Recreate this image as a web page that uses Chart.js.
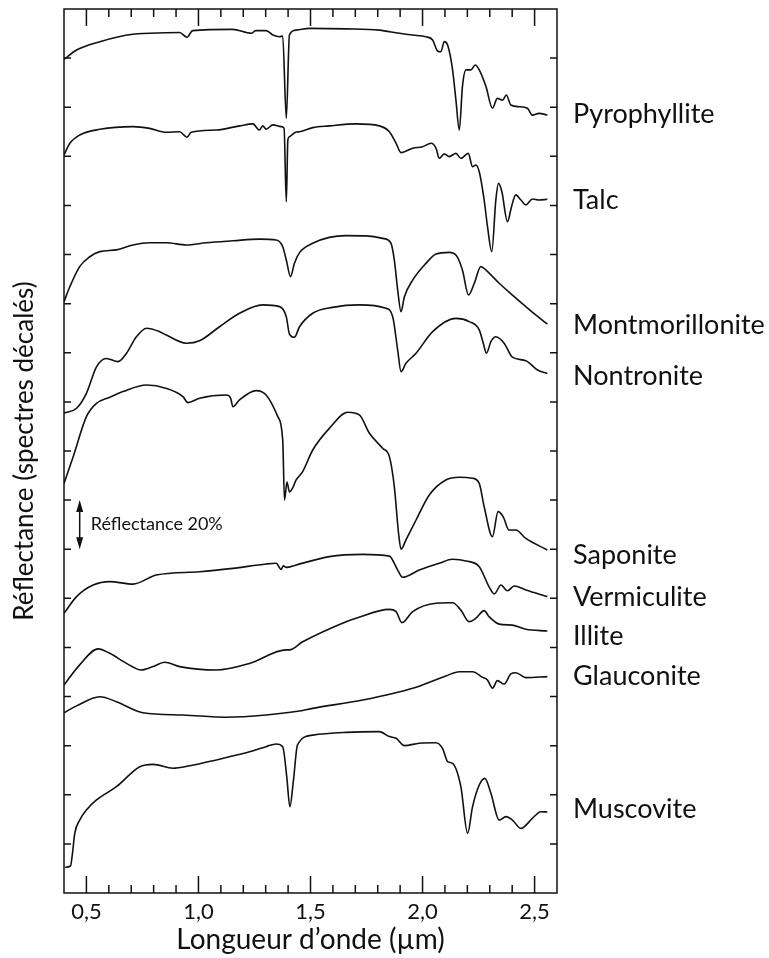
<!DOCTYPE html>
<html>
<head>
<meta charset="utf-8">
<script src="https://cdn.jsdelivr.net/npm/chart.js@4/dist/chart.umd.min.js"></script>
<style>
  html, body { margin: 0; padding: 0; background: #ffffff; }
  canvas { display: block; }
</style>
</head>
<body>
<canvas id="spectra" width="769" height="958"></canvas>
<script>
// Axis ranges and tick positions
const xMin = 0.4, xMax = 2.6;
const yMin = 0, yMax = 360;
const xLabelTicks = [0.5, 1.0, 1.5, 2.0, 2.5];
const xMinorTicks = [0.6, 0.7, 0.8, 0.9, 1.1, 1.2, 1.3, 1.4, 1.6, 1.7, 1.8, 1.9, 2.1, 2.2, 2.3, 2.4];
const yTicks = [20, 40, 60, 80, 100, 120, 140, 160, 180, 200, 220, 240, 260, 280, 300, 320, 340];

// Scale bar (20 % reflectance)
const scaleBarX = 0.47;
const scaleBarFrom = 140;
const scaleBarTo = 160;
const scaleBarText = 'Réflectance 20%';

// Mineral names, top to bottom, and the height (offset reflectance) of each name
const minerals = ['Pyrophyllite', 'Talc', 'Montmorillonite', 'Nontronite', 'Saponite',
                  'Vermiculite', 'Illite', 'Glauconite', 'Muscovite'];
const nameLevels = [317.5, 282.5, 231.5, 210.9, 138.1, 120.7, 104.8, 88.7, 34.3];

// Wavelengths (µm) and offset reflectance (%) for each spectrum
const pyrophylliteWl = [0.40, 0.456, 0.560, 0.707, 0.857, 0.916, 0.949, 0.974, 1.152, 1.236, 1.255, 1.302, 1.332, 1.362, 1.376, 1.392, 1.406, 1.436, 1.495, 1.659, 1.807, 1.896, 1.956, 2.015, 2.045, 2.067, 2.082, 2.097, 2.112, 2.134, 2.149, 2.164, 2.178, 2.194, 2.216, 2.235, 2.253, 2.283, 2.312, 2.334, 2.357, 2.374, 2.394, 2.431, 2.468, 2.490, 2.520, 2.557];
const pyrophylliteR = [339.5, 343.3, 346.7, 349.7, 350.3, 350.4, 348.5, 351.2, 351.7, 350.1, 351.2, 351.2, 349.4, 348.7, 349.0, 315.5, 349.4, 351.4, 352.1, 351.9, 351.4, 350.1, 349.4, 348.7, 347.4, 342.9, 342.6, 346.7, 345.3, 335.2, 322.9, 310.7, 328.4, 335.2, 335.2, 337.2, 335.2, 328.4, 319.6, 323.6, 322.9, 325.0, 320.9, 320.2, 319.6, 316.8, 317.5, 316.8];

const talcWl = [0.40, 0.426, 0.470, 0.560, 0.708, 0.782, 0.857, 0.916, 0.949, 0.968, 1.080, 1.183, 1.243, 1.272, 1.287, 1.302, 1.332, 1.369, 1.382, 1.392, 1.399, 1.406, 1.436, 1.451, 1.510, 1.584, 1.703, 1.807, 1.852, 1.882, 1.904, 1.956, 2.000, 2.038, 2.060, 2.075, 2.097, 2.119, 2.149, 2.171, 2.204, 2.223, 2.238, 2.253, 2.275, 2.290, 2.309, 2.327, 2.339, 2.354, 2.379, 2.397, 2.416, 2.439, 2.461, 2.490, 2.520, 2.557];
const talcR = [300.5, 305.3, 308.7, 311.0, 312.1, 311.4, 309.8, 310.0, 307.8, 309.8, 310.7, 312.4, 313.2, 310.7, 312.4, 311.1, 312.8, 312.1, 311.5, 281.5, 306.7, 308.0, 309.9, 310.0, 311.7, 312.4, 313.2, 312.4, 310.0, 305.3, 301.5, 303.3, 303.9, 305.3, 303.3, 299.2, 301.0, 299.9, 301.2, 299.2, 301.2, 295.8, 296.5, 293.7, 282.2, 271.3, 261.2, 282.2, 289.0, 285.6, 273.4, 279.5, 284.3, 282.2, 280.2, 282.6, 282.2, 282.5];

const montmorilloniteWl = [0.40, 0.426, 0.470, 0.515, 0.560, 0.634, 0.708, 0.782, 0.857, 0.946, 1.035, 1.154, 1.272, 1.347, 1.376, 1.392, 1.411, 1.428, 1.451, 1.510, 1.584, 1.659, 1.748, 1.822, 1.859, 1.874, 1.889, 1.904, 1.919, 1.956, 2.015, 2.060, 2.119, 2.149, 2.178, 2.205, 2.231, 2.260, 2.283, 2.342, 2.401, 2.461, 2.505, 2.557];
const montmorilloniteR = [240.8, 246.9, 255.1, 259.1, 261.2, 261.9, 263.9, 264.8, 264.8, 263.9, 264.8, 265.6, 266.3, 265.9, 263.2, 257.8, 251.0, 256.4, 260.8, 264.6, 267.0, 267.7, 267.6, 266.6, 264.6, 257.8, 245.6, 236.7, 242.8, 249.6, 256.4, 260.2, 260.9, 259.8, 253.7, 243.5, 248.3, 255.1, 253.7, 248.3, 243.5, 238.8, 235.4, 231.7];

const nontroniteWl = [0.40, 0.456, 0.500, 0.545, 0.589, 0.641, 0.679, 0.723, 0.768, 0.827, 0.857, 0.946, 1.005, 1.094, 1.183, 1.287, 1.362, 1.392, 1.406, 1.428, 1.451, 1.510, 1.599, 1.718, 1.837, 1.867, 1.889, 1.904, 1.926, 1.971, 2.045, 2.149, 2.208, 2.253, 2.271, 2.285, 2.305, 2.327, 2.364, 2.401, 2.461, 2.513, 2.557];
const nontroniteR = [195.4, 197.4, 203.5, 214.3, 217.7, 216.4, 219.8, 226.5, 230.0, 228.6, 227.2, 223.9, 224.9, 230.6, 236.1, 239.5, 238.8, 234.7, 227.6, 226.3, 230.6, 236.1, 238.5, 239.5, 238.1, 234.7, 221.1, 212.3, 215.7, 219.8, 228.6, 234.0, 232.7, 229.3, 223.9, 219.8, 224.5, 226.5, 223.9, 218.2, 216.8, 213.0, 211.6];

const saponiteWl = [0.40, 0.441, 0.500, 0.545, 0.604, 0.663, 0.768, 0.857, 0.931, 0.953, 1.005, 1.124, 1.143, 1.154, 1.183, 1.258, 1.302, 1.354, 1.376, 1.384, 1.395, 1.406, 1.420, 1.436, 1.465, 1.510, 1.584, 1.666, 1.718, 1.763, 1.822, 1.852, 1.874, 1.893, 1.904, 1.926, 1.971, 2.030, 2.104, 2.164, 2.223, 2.253, 2.275, 2.312, 2.337, 2.360, 2.386, 2.416, 2.461, 2.557];
const saponiteR = [166.8, 177.7, 194.0, 199.4, 201.9, 204.2, 206.9, 205.5, 202.1, 199.7, 201.5, 202.8, 201.6, 198.0, 200.8, 204.6, 202.8, 194.0, 184.5, 160.0, 167.4, 163.3, 164.9, 168.2, 171.6, 180.4, 189.2, 195.8, 194.7, 187.2, 181.1, 177.7, 165.5, 146.5, 140.0, 143.8, 151.9, 162.1, 168.2, 169.3, 168.9, 166.8, 157.3, 145.1, 155.3, 153.2, 147.8, 147.8, 144.4, 139.7];

const vermiculiteWl = [0.40, 0.456, 0.530, 0.604, 0.708, 0.812, 1.005, 1.154, 1.302, 1.347, 1.369, 1.379, 1.392, 1.436, 1.584, 1.733, 1.852, 1.889, 1.911, 1.985, 2.075, 2.134, 2.194, 2.253, 2.297, 2.320, 2.350, 2.379, 2.409, 2.461, 2.557];
const vermiculiteR = [113.9, 120.7, 125.4, 126.8, 125.8, 129.5, 130.8, 132.2, 134.0, 134.3, 131.8, 133.2, 132.6, 133.6, 137.0, 137.9, 137.2, 131.5, 128.6, 131.5, 134.3, 135.9, 135.2, 132.9, 124.7, 121.8, 125.4, 123.1, 125.0, 123.4, 120.7];

const illiteWl = [0.40, 0.470, 0.552, 0.604, 0.679, 0.745, 0.797, 0.849, 0.916, 1.080, 1.228, 1.392, 1.406, 1.465, 1.659, 1.703, 1.852, 1.882, 1.908, 1.956, 2.060, 2.134, 2.171, 2.208, 2.238, 2.275, 2.297, 2.342, 2.401, 2.461, 2.557];
const illiteR = [84.7, 92.9, 99.4, 97.6, 93.5, 90.8, 92.2, 94.0, 92.2, 90.8, 93.5, 99.0, 99.0, 102.3, 110.5, 111.9, 115.5, 114.6, 110.1, 114.6, 118.0, 118.2, 115.2, 110.5, 111.9, 115.0, 112.5, 109.5, 109.1, 107.4, 106.7];

const glauconiteWl = [0.40, 0.456, 0.560, 0.634, 0.752, 0.931, 1.124, 1.302, 1.451, 1.510, 1.733, 1.956, 2.104, 2.164, 2.223, 2.268, 2.290, 2.312, 2.334, 2.364, 2.394, 2.416, 2.461, 2.557];
const glauconiteR = [73.4, 76.2, 79.9, 77.9, 73.4, 72.5, 71.6, 72.5, 74.1, 75.2, 78.6, 83.4, 88.4, 90.1, 90.1, 87.8, 86.7, 83.4, 86.5, 85.1, 89.2, 89.7, 87.7, 88.1];

const muscoviteWl = [0.405, 0.429, 0.437, 0.448, 0.470, 0.500, 0.545, 0.634, 0.738, 0.797, 0.886, 0.961, 1.080, 1.228, 1.302, 1.347, 1.376, 1.394, 1.408, 1.424, 1.442, 1.510, 1.659, 1.807, 1.852, 1.882, 1.919, 1.985, 2.060, 2.089, 2.112, 2.134, 2.171, 2.201, 2.223, 2.253, 2.278, 2.305, 2.342, 2.372, 2.401, 2.439, 2.490, 2.528, 2.557];
const muscoviteR = [10.5, 11.0, 15.5, 24.3, 29.7, 33.8, 37.9, 43.3, 51.4, 52.4, 50.8, 51.8, 54.2, 57.5, 59.6, 60.7, 59.6, 47.4, 35.1, 46.0, 60.3, 64.3, 65.4, 65.7, 63.7, 63.0, 60.0, 61.0, 61.2, 58.9, 53.5, 52.8, 43.3, 24.3, 35.1, 44.0, 46.7, 40.6, 29.7, 31.1, 29.7, 26.3, 30.4, 33.1, 33.0];

const spectra = [
  [pyrophylliteWl, pyrophylliteR],
  [talcWl, talcR],
  [montmorilloniteWl, montmorilloniteR],
  [nontroniteWl, nontroniteR],
  [saponiteWl, saponiteR],
  [vermiculiteWl, vermiculiteR],
  [illiteWl, illiteR],
  [glauconiteWl, glauconiteR],
  [muscoviteWl, muscoviteR]
];

const INK = '#111111';
const FONT = 'Lato, "Open Sans", sans-serif';
const NAME_SIZE = 27;

// Frame with inward ticks on all four sides, scale bar and mineral names
const decorations = {
  id: 'decorations',
  afterDatasetsDraw(chart) {
    const { ctx, chartArea: { left, right, top, bottom }, scales: { x, y } } = chart;
    ctx.save();
    ctx.strokeStyle = INK;
    ctx.lineWidth = 1.5;
    ctx.strokeRect(left, top, right - left, bottom - top);

    ctx.beginPath();
    const xTick = (v, len) => {
      const px = x.getPixelForValue(v);
      ctx.moveTo(px, bottom); ctx.lineTo(px, bottom - len);
      ctx.moveTo(px, top); ctx.lineTo(px, top + len);
    };
    xLabelTicks.forEach(v => xTick(v, 17));
    xMinorTicks.forEach(v => xTick(v, 8));
    yTicks.forEach(v => {
      const py = y.getPixelForValue(v);
      ctx.moveTo(left, py); ctx.lineTo(left + 7, py);
      ctx.moveTo(right, py); ctx.lineTo(right - 7, py);
    });
    ctx.stroke();

    // double-headed scale bar
    const bx = x.getPixelForValue(scaleBarX);
    const by0 = y.getPixelForValue(scaleBarTo);
    const by1 = y.getPixelForValue(scaleBarFrom);
    ctx.beginPath();
    ctx.moveTo(bx, by0 + 6); ctx.lineTo(bx, by1 - 6);
    ctx.stroke();
    ctx.fillStyle = INK;
    ctx.beginPath();
    ctx.moveTo(bx, by0); ctx.lineTo(bx - 3.5, by0 + 12); ctx.lineTo(bx + 3.5, by0 + 12); ctx.closePath();
    ctx.moveTo(bx, by1); ctx.lineTo(bx - 3.5, by1 - 12); ctx.lineTo(bx + 3.5, by1 - 12); ctx.closePath();
    ctx.fill();
    ctx.font = '18px ' + FONT;
    ctx.textAlign = 'left';
    ctx.textBaseline = 'middle';
    ctx.fillText(scaleBarText, bx + 11, (by0 + by1) / 2);

    // mineral names beside the right-hand end of the spectra
    ctx.font = NAME_SIZE + 'px ' + FONT;
    ctx.textBaseline = 'alphabetic';
    const halfCap = NAME_SIZE * 0.36;
    chart.data.datasets.forEach((ds, i) => {
      ctx.fillText(ds.label, right + 16, y.getPixelForValue(nameLevels[i]) + halfCap);
    });
    ctx.restore();
  }
};

new Chart(document.getElementById('spectra'), {
  type: 'line',
  data: {
    datasets: spectra.map(([wl, r], i) => ({
      label: minerals[i],
      data: wl.map((w, k) => ({ x: w, y: r[k] })),
      borderColor: INK,
      borderWidth: 1.6,
      pointRadius: 0,
      cubicInterpolationMode: 'monotone',
      fill: false
    }))
  },
  options: {
    responsive: false,
    animation: false,
    devicePixelRatio: 1,
    layout: { padding: { left: 0, top: 9, right: 212, bottom: 0 } },
    plugins: { legend: { display: false }, tooltip: { enabled: false } },
    scales: {
      x: {
        type: 'linear',
        min: xMin,
        max: xMax,
        afterBuildTicks: s => { s.ticks = xLabelTicks.map(v => ({ value: v })); },
        afterFit: s => { s.height = 65; },
        grid: { display: false, drawTicks: false },
        border: { display: false },
        ticks: {
          autoSkip: false,
          maxRotation: 0,
          padding: 6,
          color: INK,
          font: { family: FONT, size: 22 },
          callback: v => v.toFixed(1).replace('.', ',')
        },
        title: {
          display: true,
          text: 'Longueur d’onde (µm)',
          color: INK,
          font: { family: FONT, size: 28 },
          padding: { top: 0, bottom: 1 }
        }
      },
      y: {
        type: 'linear',
        min: yMin,
        max: yMax,
        afterFit: s => { s.width = 64; },
        grid: { display: false, drawTicks: false },
        border: { display: false },
        ticks: { display: false },
        title: {
          display: true,
          text: 'Réflectance (spectres décalés)',
          color: INK,
          font: { family: FONT, size: 26 },
          padding: { top: 9, bottom: 0 }
        }
      }
    }
  },
  plugins: [decorations]
});
</script>
</body>
</html>
